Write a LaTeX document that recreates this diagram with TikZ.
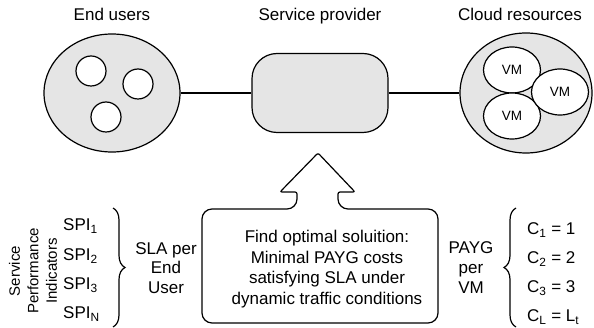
\documentclass[tikz,border=0pt]{standalone}
\usepackage{fontspec}
\setmainfont{Liberation Sans}
\usetikzlibrary{shapes.geometric,decorations.pathreplacing}
\tikzstyle{group}=[ellipse,draw,line width=1.2pt,fill=black!10,inner sep=0pt]
\tikzstyle{user}=[circle,draw,line width=1.2pt,fill=white,minimum size=30pt,inner sep=0pt]
\tikzstyle{vm}=[ellipse,draw,line width=1.2pt,fill=white,minimum width=57pt,minimum height=46pt,inner sep=0pt,font=\fontsize{13.5}{16}\selectfont]
\tikzstyle{edge} = [draw,line width=1.2pt]
\tikzstyle{title} = [anchor=base,inner sep=0pt]
\tikzstyle{note} = [align=center,inner sep=0pt]
\tikzstyle{curly} = [draw,decorate,decoration={brace,amplitude=12pt},line width=1.2pt]

\begin{document}
\begin{tikzpicture}[x=1pt, y=-1pt, font=\fontsize{17}{20}\selectfont]

    \useasboundingbox (0,0) rectangle (594,328);

    \node[title] (tusers) at (112,21) {End users};
    \node[title] (tprovider) at (320,21) {Service provider};
    \node[title] (tcloud) at (520,21) {Cloud resources};

    \node[group, minimum width=136pt, minimum height=118pt] (users) at (112,93) {};
    \node[draw, line width=1.2pt, fill=black!10, rounded corners=25pt, minimum width=136pt, minimum height=79pt] (provider) at (320,93) {};
    \node[group, minimum width=132pt, minimum height=120pt] (cloud) at (526,93) {};

     \foreach \x/\y/\name in {91/71/u1, 138/84/u2, 106/117/u3}
        \node[user] (\name) at (\x,\y) {};

     \foreach \x/\y/\name in {512/70/vm1, 512/116/vm3, 560/92/vm2}
        \node[vm] (\name) at (\x,\y) {VM};

    \path[edge] (users) -- (provider);
    \path[edge] (provider) -- (cloud);

    % callout with arrow up to the provider
    \draw[line width=1.2pt, rounded corners=10pt] (202,265) -- (202,209) -- (297,209) [rounded corners=2pt] -- (297,192) -- (280,192) -- (318,153) -- (355,192) -- (338,192) [rounded corners=10pt] -- (338,209) -- (438,209) -- (438,323) -- (202,323) -- cycle;
    \node[note, font=\fontsize{17}{20.5}\selectfont] (goal) at (327,269) {Find optimal soluition:\\Minimal PAYG costs\\satisfying SLA under\\dynamic traffic conditions};

    % left side
    \node[note, rotate=90, font=\fontsize{15}{18.5}\selectfont] (spiname) at (33,271) {Service\\Performance\\Indicators};
    \foreach \y/\name/\sub in {231/spi1/1, 261/spi2/2, 290/spi3/3, 319/spin/N}
        \node[anchor=base west, inner sep=0pt] (\name) at (63,\y) {SPI\textsubscript{\sub}};
    \coordinate (spitop) at (113,208);
    \coordinate (spibot) at (113,327);
    \path[curly] (spitop) -- (spibot);
    \node[note, font=\fontsize{17}{19.5}\selectfont] (sla) at (166,268) {SLA per\\End\\User};

    % right side
    \node[note] (payg) at (471,268) {PAYG\\per\\VM};
    \coordinate (ctop) at (516,208);
    \coordinate (cbot) at (516,327);
    \path[curly] (cbot) -- (ctop);
    \foreach \y/\name/\txt in {235/c1/{C\textsubscript{1} = 1}, 264/c2/{C\textsubscript{2} = 2}, 293/c3/{C\textsubscript{3} = 3}, 322/cl/{C\textsubscript{L} = L\textsubscript{t}}}
        \node[anchor=base west, inner sep=0pt] (\name) at (527,\y) {\txt};

\end{tikzpicture}
\end{document}
